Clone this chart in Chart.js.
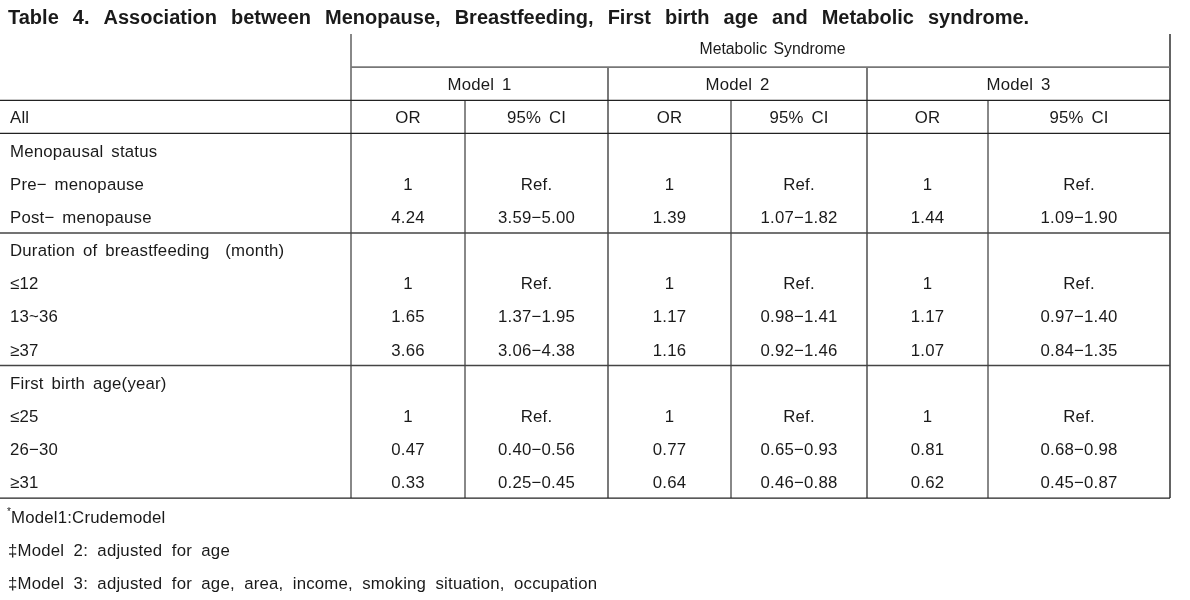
<!DOCTYPE html>
<html>
<head>
<meta charset="utf-8">
<script src="https://cdn.jsdelivr.net/npm/chart.js@4/dist/chart.umd.min.js"></script>
<style>
  html, body { margin: 0; background: #fff; }
  #wrap { width: 1190px; height: 600px; }
</style>
</head>
<body>
<div id="wrap"><canvas id="tableChart"></canvas></div>
<script>
// table content
const title = 'Table 4. Association between Menopause, Breastfeeding, First birth age and Metabolic syndrome.';
const groupHeader = 'Metabolic Syndrome';
const models = ['Model 1', 'Model 2', 'Model 3'];
const statHeaders = ['OR', '95% CI'];
const cornerLabel = 'All';
const rowLabels = ['Menopausal status', 'Pre\u2212 menopause', 'Post\u2212 menopause',
  'Duration of breastfeeding  (month)', '\u226412', '13~36', '\u226537',
  'First birth age(year)', '\u226425', '26\u221230', '\u226531'];
const model1OR = ['', '1', '4.24', '', '1', '1.65', '3.66', '', '1', '0.47', '0.33'];
const model1CI = ['', 'Ref.', '3.59\u22125.00', '', 'Ref.', '1.37\u22121.95', '3.06\u22124.38', '', 'Ref.', '0.40\u22120.56', '0.25\u22120.45'];
const model2OR = ['', '1', '1.39', '', '1', '1.17', '1.16', '', '1', '0.77', '0.64'];
const model2CI = ['', 'Ref.', '1.07\u22121.82', '', 'Ref.', '0.98\u22121.41', '0.92\u22121.46', '', 'Ref.', '0.65\u22120.93', '0.46\u22120.88'];
const model3OR = ['', '1', '1.44', '', '1', '1.17', '1.07', '', '1', '0.81', '0.62'];
const model3CI = ['', 'Ref.', '1.09\u22121.90', '', 'Ref.', '0.97\u22121.40', '0.84\u22121.35', '', 'Ref.', '0.68\u22120.98', '0.45\u22120.87'];
const footnotes = ['Model1:Crudemodel', '\u2021Model 2: adjusted for age',
  '\u2021Model 3: adjusted for age, area, income, smoking situation, occupation'];

// layout (pixels on x, row units on y)
const colEdges = [0, 351, 465, 608, 731, 867, 988, 1170];
const rowTop = 34, rowH = 33.15;
const bodyFont = '16.8px "Liberation Sans", Arial, sans-serif';
const headFont = '15.8px "Liberation Sans", Arial, sans-serif';
const titleFont = 'bold 20px "Liberation Sans", Arial, sans-serif';

function rule(x0, x1, y0, y1, color, width) {
  return {
    data: [{x: x0, y: y0}, {x: x1, y: y1}],
    borderColor: color, borderWidth: width,
    pointRadius: 0, fill: false, tension: 0
  };
}

const nRows = 3 + rowLabels.length; // header rows + body
const rules = [
  rule(colEdges[1], colEdges[7], 1, 1, '#777', 1.6),
  rule(colEdges[0], colEdges[7], 2, 2, '#222', 1.3),
  rule(colEdges[0], colEdges[7], 3, 3, '#222', 1.3),
  rule(colEdges[0], colEdges[7], 6, 6, '#444', 1.5),
  rule(colEdges[0], colEdges[7], 10, 10, '#444', 1.5),
  rule(colEdges[0], colEdges[7], nRows, nRows, '#222', 1.3),
  rule(colEdges[1], colEdges[1], 0, nRows, '#888', 2),
  rule(colEdges[7], colEdges[7], 0, nRows, '#111', 1.3),
  rule(colEdges[3], colEdges[3], 1, nRows, '#333', 1.3),
  rule(colEdges[5], colEdges[5], 1, nRows, '#333', 1.3),
  rule(colEdges[2], colEdges[2], 2, nRows, '#888', 2),
  rule(colEdges[4], colEdges[4], 2, nRows, '#888', 2),
  rule(colEdges[6], colEdges[6], 2, nRows, '#888', 2)
];

const cellText = {
  id: 'cellText',
  afterDatasetsDraw(chart) {
    const {ctx, scales: {x, y}} = chart;
    const mid = (a, b) => (x.getPixelForValue(a) + x.getPixelForValue(b)) / 2;
    const put = (txt, px, row, align, font) => {
      ctx.font = font || bodyFont;
      ctx.textAlign = align;
      ctx.fillText(txt, px, y.getPixelForValue(row + 0.06));
    };
    ctx.save();
    ctx.fillStyle = '#1a1a1a';
    ctx.textBaseline = 'middle';

    ctx.wordSpacing = '8.5px';
    put(title, x.getPixelForValue(8), -0.52, 'left', titleFont);

    ctx.wordSpacing = '2px';
    put(groupHeader, mid(colEdges[1], colEdges[7]) + 12, 0.42, 'center', headFont);

    ctx.letterSpacing = '0.2px';
    ctx.wordSpacing = '3px';
    models.forEach((m, i) => put(m, mid(colEdges[1 + 2 * i], colEdges[3 + 2 * i]), 1.5, 'center'));
    put(cornerLabel, x.getPixelForValue(10), 2.5, 'left');
    for (let i = 0; i < 3; i++) {
      put(statHeaders[0], mid(colEdges[1 + 2 * i], colEdges[2 + 2 * i]), 2.5, 'center');
      put(statHeaders[1], mid(colEdges[2 + 2 * i], colEdges[3 + 2 * i]), 2.5, 'center');
    }
    const cols = [model1OR, model1CI, model2OR, model2CI, model3OR, model3CI];
    rowLabels.forEach((lab, r) => {
      const row = 3.5 + r;
      put(lab, x.getPixelForValue(10), row, 'left');
      cols.forEach((vals, c) => {
        if (vals[r]) put(vals[r], mid(colEdges[1 + c], colEdges[2 + c]), row, 'center');
      });
    });
    ctx.wordSpacing = '4.5px';
    footnotes.forEach((f, i) => put(f, x.getPixelForValue(i === 0 ? 11 : 8), nRows + 0.55 + i, 'left'));
    put('*', x.getPixelForValue(7), nRows + 0.38, 'left', '10px "Liberation Sans", sans-serif');
    ctx.restore();
  }
};

new Chart(document.getElementById('tableChart'), {
  type: 'line',
  data: { datasets: rules },
  options: {
    responsive: true,
    maintainAspectRatio: false,
    animation: false,
    events: [],
    layout: { padding: 0 },
    scales: {
      x: { type: 'linear', min: 0, max: 1190, display: false },
      y: { type: 'linear', reverse: true, min: -rowTop / rowH, max: (600 - rowTop) / rowH, display: false }
    },
    plugins: { legend: { display: false }, tooltip: { enabled: false } }
  },
  plugins: [cellText]
});
</script>
</body>
</html>
